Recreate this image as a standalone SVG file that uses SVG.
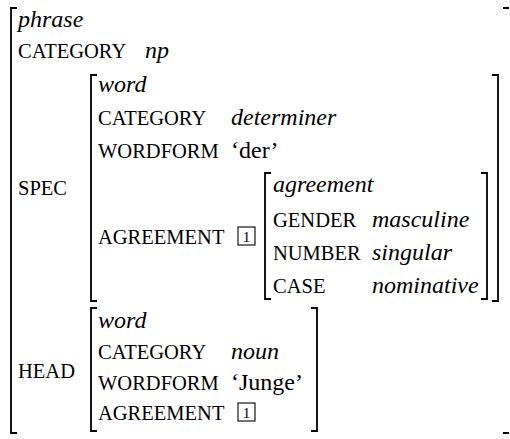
<svg xmlns="http://www.w3.org/2000/svg" width="510" height="439" viewBox="0 0 510 439">
<style>
text{font-family:"Liberation Serif","Times New Roman",serif;fill:#000}
.t{font-size:24px;font-style:italic}
.f{font-size:20.5px}
.v{font-size:24px;font-style:italic}
.r{font-size:24px}
.b{fill:none;stroke:#000;stroke-width:1.8}
.tag{fill:none;stroke:#000;stroke-width:1.1}
.n{font-size:15px;text-anchor:middle}
</style>
<rect width="510" height="439" fill="#fff"/>
<g id="phrase">
<path class="b" d="M17,8H11V433H17"/>
<path class="b" d="M503,8H509M503,433H509"/>
<text class="t" x="18" y="27">phrase</text>
<text class="f" x="18" y="58">CATEGORY</text>
<text class="v" x="145" y="58">np</text>
<text class="f" x="18" y="195">SPEC</text>
<text class="f" x="18" y="378">HEAD</text>
</g>
<g id="spec">
<path class="b" d="M97,75H91V301H97"/>
<path class="b" d="M492,75H498V301H492"/>
<text class="t" x="98" y="92">word</text>
<text class="f" x="98" y="125">CATEGORY</text>
<text class="v" x="231" y="125">determiner</text>
<text class="f" x="98" y="158">WORDFORM</text>
<text class="r" x="231" y="158">‘der’</text>
<text class="f" x="98" y="244">AGREEMENT</text>
<rect class="tag" x="238" y="227" width="17" height="18"/>
<text class="n" x="246.5" y="242">1</text>
</g>
<g id="agreement">
<path class="b" d="M271,173H265V299H271"/>
<path class="b" d="M481,173H487V299H481"/>
<text class="t" x="273" y="192">agreement</text>
<text class="f" x="273" y="227">GENDER</text>
<text class="v" x="372" y="227">masculine</text>
<text class="f" x="273" y="260">NUMBER</text>
<text class="v" x="372" y="260">singular</text>
<text class="f" x="273" y="293">CASE</text>
<text class="v" x="372" y="293">nominative</text>
</g>
<g id="head">
<path class="b" d="M97,308H91V431H97"/>
<path class="b" d="M311,308H317V431H311"/>
<text class="t" x="98" y="328">word</text>
<text class="f" x="98" y="359">CATEGORY</text>
<text class="v" x="231" y="359">noun</text>
<text class="f" x="98" y="390">WORDFORM</text>
<text class="r" x="231" y="390">‘Junge’</text>
<text class="f" x="98" y="420">AGREEMENT</text>
<rect class="tag" x="238" y="403" width="17" height="18"/>
<text class="n" x="246.5" y="418">1</text>
</g>
</svg>
